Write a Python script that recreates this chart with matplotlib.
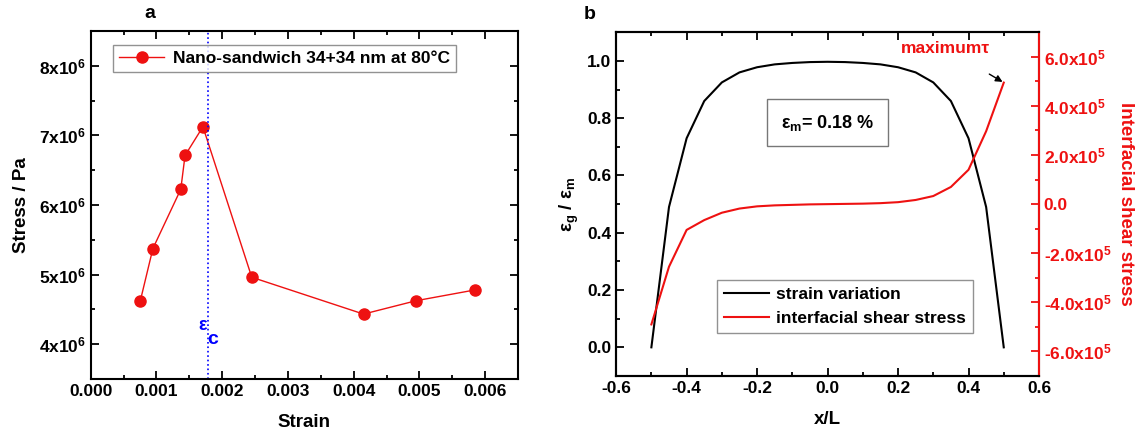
import matplotlib.pyplot as plt
from matplotlib.ticker import MultipleLocator, FuncFormatter

plt.rcParams['font.family'] = ['Liberation Sans', 'DejaVu Sans']
plt.rcParams['font.weight'] = 'bold'
plt.rcParams['axes.labelweight'] = 'bold'
plt.rcParams['mathtext.fontset'] = 'custom'
plt.rcParams['mathtext.rm'] = 'Liberation Sans:bold'
plt.rcParams['mathtext.it'] = 'Liberation Sans:bold'
plt.rcParams['mathtext.bf'] = 'Liberation Sans:bold'
plt.rcParams['mathtext.default'] = 'rm'

# panel a data
strain = [0.000755, 0.000946, 0.00137, 0.001435, 0.001707, 0.00245, 0.00415, 0.00495, 0.00584]
stress = [4.625e6, 5.375e6, 6.226e6, 6.712e6, 7.125e6, 4.962e6, 4.433e6, 4.625e6, 4.779e6]
eps_c = 0.00178

# panel b data
xl = [-0.5, -0.45, -0.4, -0.35, -0.3, -0.25, -0.2, -0.15, -0.1, -0.05, 0.0,
      0.05, 0.1, 0.15, 0.2, 0.25, 0.3, 0.35, 0.4, 0.45, 0.5]
strain_var = [0.0, 0.49, 0.73, 0.86, 0.925, 0.96, 0.978, 0.988, 0.993, 0.996, 0.997,
              0.996, 0.993, 0.988, 0.978, 0.96, 0.925, 0.86, 0.73, 0.49, 0.0]
shear = [-4.9e5, -2.55e5, -1.05e5, -0.65e5, -0.35e5, -0.18e5, -0.09e5, -0.05e5, -0.03e5, -0.01e5, 0.0,
         0.01e5, 0.02e5, 0.04e5, 0.08e5, 0.17e5, 0.33e5, 0.7e5, 1.4e5, 2.97e5, 4.95e5]

fig = plt.figure(figsize=(11.41, 4.4), dpi=100)
ax1 = fig.add_axes([0.0795, 0.1386, 0.3745, 0.7909])
ax2 = fig.add_axes([0.540, 0.1455, 0.3706, 0.7811])


def style(ax):
    for s in ax.spines.values():
        s.set_linewidth(1.5)
    ax.tick_params(which='both', direction='in', top=True, right=True, width=1.3, labelsize=12.5)
    ax.tick_params(which='major', length=6)
    ax.tick_params(which='minor', length=3)


# ---- panel a
ax1.plot(strain, stress, '-o', color='#ee1111', lw=1, ms=8, label='Nano-sandwich 34+34 nm at 80°C')
ax1.axvline(eps_c, color='blue', ls=':', lw=1.2)
ax1.text(0.00170, 4.27e6, 'ε', color='blue', fontsize=13, ha='center', va='center')
ax1.text(0.00186, 4.07e6, 'c', color='blue', fontsize=14, ha='center', va='center')
ax1.set_xlim(0, 0.0065)
ax1.set_ylim(3.5e6, 8.5e6)
ax1.xaxis.set_major_locator(MultipleLocator(0.001))
ax1.xaxis.set_minor_locator(MultipleLocator(0.0005))
ax1.yaxis.set_major_locator(MultipleLocator(1e6))
ax1.yaxis.set_minor_locator(MultipleLocator(0.5e6))
ax1.xaxis.set_major_formatter(FuncFormatter(lambda v, p: '%.3f' % v))
ax1.yaxis.set_major_formatter(FuncFormatter(lambda v, p: '%dx10$^{6}$' % round(v / 1e6)))
style(ax1)
ax1.set_xlabel('Strain', fontsize=13.5, labelpad=11)
ax1.set_ylabel('Stress / Pa', fontsize=13.5, labelpad=6)
leg = ax1.legend(loc='upper left', bbox_to_anchor=(0.052, 0.96), borderaxespad=0, fontsize=12.5,
                 fancybox=False, edgecolor='#777777', handlelength=2.6, borderpad=0.35,
                 handletextpad=0.5)
leg.get_frame().set_linewidth(1.0)
fig.text(0.131, 0.97, 'a', fontsize=14, ha='center', va='center')

# ---- panel b
ax3 = ax2.twinx()
l1, = ax2.plot(xl, strain_var, color='black', lw=1.5, label='strain variation')
l2, = ax3.plot(xl, shear, color='#ee1111', lw=1.5, label='interfacial shear stress')
ax2.set_xlim(-0.6, 0.6)
ax2.set_ylim(-0.1, 1.1)
ax3.set_ylim(-7e5, 7e5)
ax2.xaxis.set_major_locator(MultipleLocator(0.2))
ax2.xaxis.set_minor_locator(MultipleLocator(0.1))
ax2.yaxis.set_major_locator(MultipleLocator(0.2))
ax2.yaxis.set_minor_locator(MultipleLocator(0.1))
ax2.xaxis.set_major_formatter(FuncFormatter(lambda v, p: '%.1f' % (0 if abs(v) < 1e-9 else v)))
ax2.yaxis.set_major_formatter(FuncFormatter(lambda v, p: '%.1f' % (0 if abs(v) < 1e-9 else v)))
style(ax2)
ax2.tick_params(right=False, which='both')
ax3.yaxis.set_major_locator(MultipleLocator(2e5))
ax3.yaxis.set_minor_locator(MultipleLocator(1e5))
ax3.yaxis.set_major_formatter(FuncFormatter(
    lambda v, p: '0.0' if abs(v) < 1 else '%.1fx10$^{5}$' % (v / 1e5)))
for s in ax3.spines.values():
    s.set_linewidth(1.5)
ax3.spines['right'].set_color('#ee1111')
ax3.tick_params(which='both', direction='in', colors='#ee1111', width=1.3, labelsize=12.5)
ax3.tick_params(which='major', length=6)
ax3.tick_params(which='minor', length=3)
ax2.set_xlabel('x/L', fontsize=13.5, labelpad=11)
ax2.set_ylabel('ε$_{g}$ / ε$_{m}$', fontsize=13.5, labelpad=4)
ax3.set_ylabel('Interfacial shear stress', fontsize=13.5, color='#ee1111', rotation=270, labelpad=16)

ax2.text(0.0, 0.784, 'ε$_{m}$= 0.18 %', fontsize=13, ha='center', va='center',
         bbox=dict(boxstyle='square,pad=0.75', fc='white', ec='#777777', lw=1.0))
ax3.annotate('maximumτ', xy=(0.5, 4.95e5), xytext=(0.335, 6.35e5), color='#ee1111', fontsize=12.5,
             ha='center', va='center',
             arrowprops=dict(arrowstyle='-|>', color='black', lw=1, shrinkA=22, shrinkB=1,
                             mutation_scale=10))
leg2 = ax2.legend([l1, l2], ['strain variation', 'interfacial shear stress'], loc='lower left',
                  bbox_to_anchor=(0.238, 0.126), borderaxespad=0, fontsize=12.5, fancybox=False,
                  edgecolor='#777777', handlelength=2.6, handletextpad=0.4)
leg2.get_frame().set_linewidth(1.0)
fig.text(0.517, 0.966, 'b', fontsize=14, ha='center', va='center')

fig.savefig('out.png', dpi=100)
